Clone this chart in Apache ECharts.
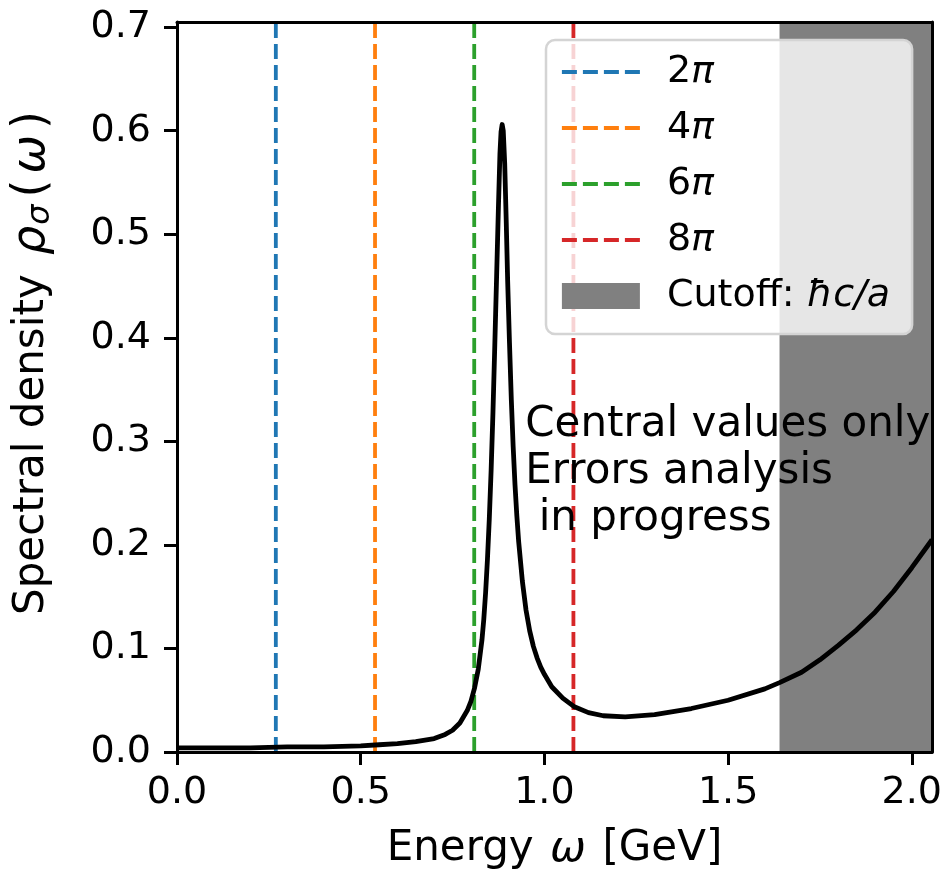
<!DOCTYPE html>
<html>
<head>
<meta charset="utf-8">
<script src="https://cdn.jsdelivr.net/npm/echarts@6/dist/echarts.min.js"></script>
<style>
  html, body { margin: 0; padding: 0; background: #fff; }
  #chart { width: 945px; height: 872px; }
</style>
</head>
<body>
<div id="chart"></div>
<script>
// spectral density curve: [energy GeV, rho]
const curve = [
  [0.00, 0.004], [0.10, 0.004], [0.20, 0.004], [0.30, 0.005], [0.40, 0.005],
  [0.50, 0.006], [0.55, 0.007], [0.60, 0.008], [0.65, 0.010], [0.70, 0.013],
  [0.73, 0.017], [0.75, 0.021], [0.77, 0.028], [0.79, 0.040], [0.80, 0.049],
  [0.81, 0.062], [0.82, 0.080], [0.83, 0.108], [0.835, 0.128], [0.84, 0.154],
  [0.845, 0.186], [0.85, 0.225], [0.855, 0.272], [0.86, 0.328], [0.865, 0.393],
  [0.87, 0.460], [0.875, 0.528], [0.879, 0.578], [0.882, 0.599], [0.885, 0.606],
  [0.888, 0.600], [0.892, 0.568], [0.896, 0.514], [0.90, 0.455], [0.905, 0.395],
  [0.91, 0.340], [0.915, 0.295], [0.92, 0.258], [0.925, 0.228], [0.93, 0.203],
  [0.94, 0.165], [0.95, 0.137], [0.96, 0.117], [0.97, 0.102], [0.98, 0.091],
  [0.99, 0.082], [1.00, 0.075], [1.02, 0.063], [1.05, 0.052], [1.08, 0.044],
  [1.12, 0.038], [1.16, 0.035], [1.22, 0.034], [1.30, 0.036], [1.40, 0.042],
  [1.50, 0.050], [1.60, 0.061], [1.64, 0.067], [1.70, 0.077], [1.75, 0.089],
  [1.80, 0.103], [1.85, 0.118], [1.90, 0.135], [1.95, 0.155], [2.00, 0.178],
  [2.055, 0.205]
];

// vertical reference lines
const lineNames = ['2π', '4π', '6π', '8π'];
const lineX = [0.269, 0.539, 0.809, 1.079];
const lineColors = ['#1f77b4', '#ff7f0e', '#2ca02c', '#d62728'];

const cutoffName = 'Cutoff: ħc/a';
const cutoffX = 1.64;

const xMax = 2.055;
const yMax = 0.705;
const xTicks = [0, 0.5, 1.0, 1.5, 2.0];
const yTicks = [0, 0.1, 0.2, 0.3, 0.4, 0.5, 0.6, 0.7];

const note = 'Central values only\nErrors analysis\n in progress';
const noteAt = [0.948, 0.338];

const FONT = 'DejaVu Sans';
const FS = 38;
const DASH = [15, 6];

let chart = echarts.init(document.getElementById('chart'));

let series = [];
lineNames.forEach(function (n, i) {
  series.push({
    name: n,
    type: 'line',
    data: [[lineX[i], 0], [lineX[i], yMax]],
    symbol: 'none',
    silent: true,
    z: 2,
    itemStyle: {color: lineColors[i]},
    lineStyle: {color: lineColors[i], width: 3.8, type: DASH}
  });
});
series.push({
  name: cutoffName,
  type: 'bar',
  data: [],
  itemStyle: {color: '#808080'},
  z: 1,
  markArea: {
    silent: true,
    itemStyle: {color: '#808080', opacity: 1},
    data: [[{xAxis: cutoffX}, {xAxis: xMax}]]
  }
});
series.push({
  name: 'rho',
  type: 'line',
  data: curve,
  symbol: 'none',
  z: 3,
  lineStyle: {color: '#000', width: 4.8, join: 'round'},
  itemStyle: {color: '#000'}
});

function legendText(name) {
  if (name === cutoffName) return 'Cutoff: {i|ħc/a}';
  return name.slice(0, 1) + '{i|π}';
}

let legendData = lineNames.map(function (n, i) {
  return {name: n, itemStyle: {opacity: 0},
    lineStyle: {color: lineColors[i], width: 3.8, type: DASH}};
});
legendData.push({name: cutoffName, icon: 'rect'});

chart.setOption({
  animation: false,
  backgroundColor: '#fff',
  textStyle: {fontFamily: FONT},
  grid: {left: 177, right: 13, top: 22, bottom: 120, containLabel: false, outerBoundsMode: 'none'},
  legend: {
    data: legendData,
    orient: 'vertical',
    left: 546,
    top: 40,
    padding: [12, 22, 18, 14],
    itemWidth: 78,
    itemHeight: 26,
    itemGap: 16,
    backgroundColor: 'rgba(255,255,255,0.8)',
    borderColor: '#d4d4d4',
    borderWidth: 2.5,
    borderRadius: 9,
    z: 20,
    formatter: legendText,
    textStyle: {
      fontFamily: FONT, fontSize: FS, color: '#000', lineHeight: 40,
      padding: [0, 0, 0, 22],
      rich: {i: {fontFamily: FONT, fontSize: FS, fontStyle: 'italic', color: '#000'}}
    }
  },
  xAxis: [{
    type: 'value', min: 0, max: xMax, interval: 0.5, z: 10,
    name: 'Energy {i|ω} [GeV]', nameLocation: 'middle', nameGap: 76,
    nameTextStyle: {fontFamily: FONT, fontSize: 42, color: '#000',
      rich: {i: {fontFamily: FONT, fontSize: 43, fontStyle: 'italic', color: '#000', padding: [0, 3, 0, 3]}}},
    axisLine: {onZero: false, lineStyle: {color: '#000', width: 3}},
    axisTick: {length: 13, lineStyle: {color: '#000', width: 3}, customValues: xTicks},
    axisLabel: {fontFamily: FONT, fontSize: FS, color: '#000', margin: 22,
      customValues: xTicks, formatter: function (v) { return v.toFixed(1); }},
    splitLine: {show: false}
  }, {
    type: 'value', min: 0, max: xMax, position: 'top', z: 10,
    axisLine: {onZero: false, lineStyle: {color: '#000', width: 3}},
    axisTick: {show: false}, axisLabel: {show: false}, splitLine: {show: false}
  }],
  yAxis: [{
    type: 'value', min: 0, max: yMax, interval: 0.1, z: 10,
    name: 'Spectral density {i|ρ}{s|σ}{n|(}{w|ω}{n|)}', nameLocation: 'middle', nameGap: 120,
    nameTextStyle: {fontFamily: FONT, fontSize: 42, color: '#000', padding: [0, 0, 0, 50],
      rich: {
        i: {fontFamily: FONT, fontSize: 46, fontStyle: 'italic', color: '#000', padding: [0, 1, 0, 6]},
        w: {fontFamily: FONT, fontSize: 46, fontStyle: 'italic', color: '#000', padding: [0, 4, 0, 4]},
        n: {fontFamily: FONT, fontSize: 46, color: '#000', padding: [0, 2, 0, 2]},
        s: {fontFamily: FONT, fontSize: 32, fontStyle: 'italic', color: '#000', padding: [18, 5, 0, 0]}
      }},
    axisLine: {onZero: false, lineStyle: {color: '#000', width: 3}},
    axisTick: {length: 13, lineStyle: {color: '#000', width: 3}, customValues: yTicks},
    axisLabel: {fontFamily: FONT, fontSize: FS, color: '#000', margin: 26,
      customValues: yTicks, formatter: function (v) { return v.toFixed(1); }},
    splitLine: {show: false}
  }, {
    type: 'value', min: 0, max: yMax, position: 'right', z: 10,
    axisLine: {onZero: false, lineStyle: {color: '#000', width: 3}},
    axisTick: {show: false}, axisLabel: {show: false}, splitLine: {show: false}
  }],
  series: series
});

// annotation placed in data coordinates
let p = chart.convertToPixel({gridIndex: 0}, noteAt);
chart.setOption({
  graphic: [{
    type: 'text', x: p[0], y: p[1], z: 100,
    style: {text: note, font: '42px "' + FONT + '"', fill: '#000',
      verticalAlign: 'top', lineHeight: 47}
  }]
});
</script>
</body>
</html>
